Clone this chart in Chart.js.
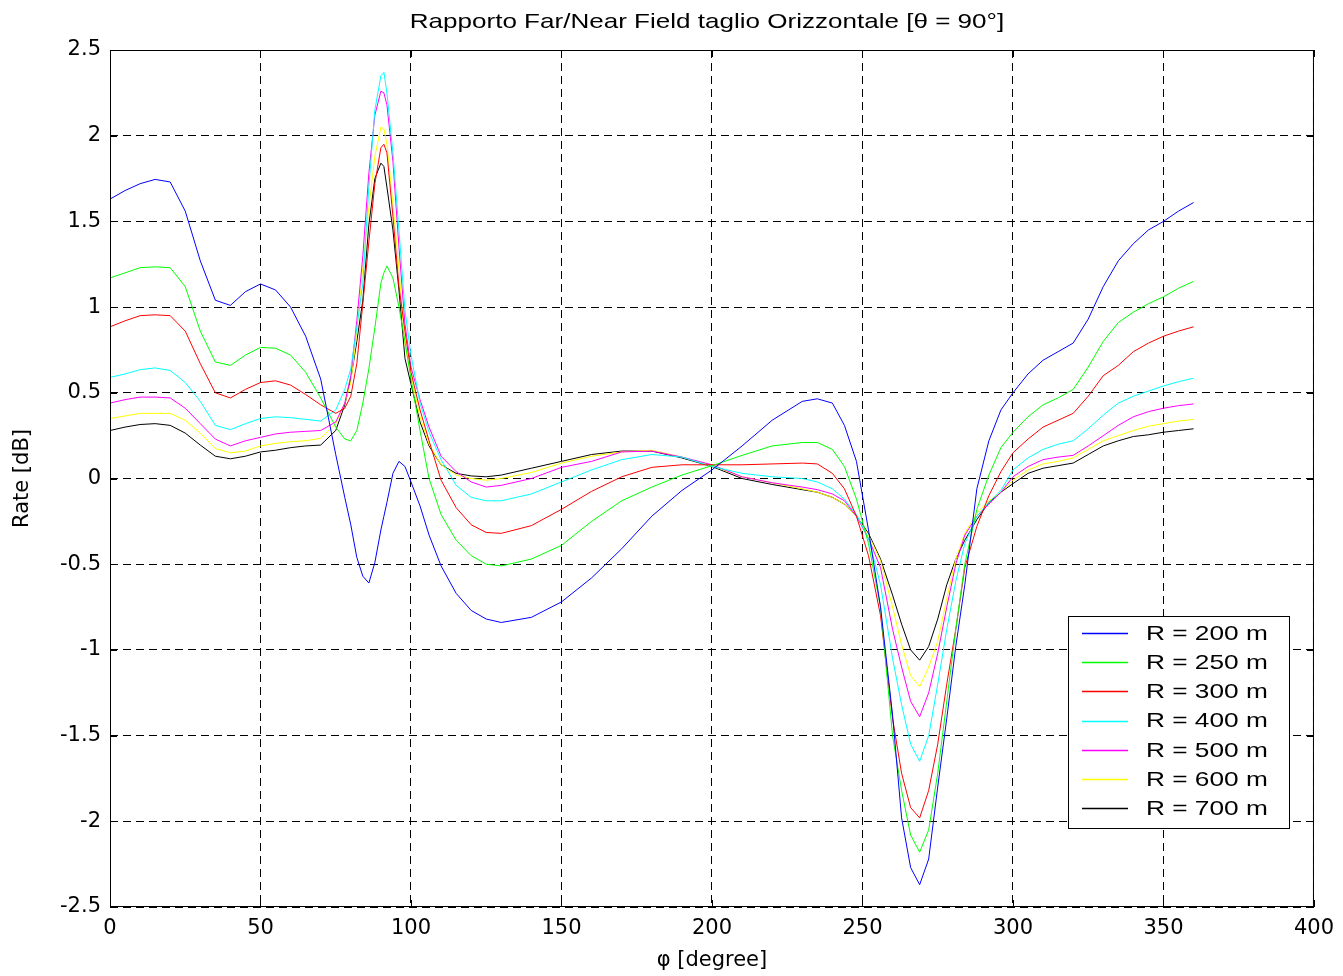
<!DOCTYPE html>
<html>
<head>
<meta charset="utf-8">
<script src="https://cdn.jsdelivr.net/npm/chart.js@4"></script>
<style>
html, body { margin: 0; padding: 0; background: #fff; }
#wrap { width: 1343px; height: 976px; }
</style>
</head>
<body>
<div id="wrap"><canvas id="graficaRapporto" width="1343" height="976"></canvas></div>
<script>
// angoli phi [deg]
const phi = [0,5,10,15,20,25,30,35,40,45,50,55,60,65,70,75,
  78,80,82,84,86,88,90,91,92,94,96,98,100,
  103,106,110,115,120,125,130,
  140,150,160,170,180,190,200,210,220,230,
  235,240,244,248,252,256,260,263,266,269,272,275,278,281,284,288,292,296,300,
  305,310,315,320,325,330,335,340,345,350,355,360];

const r200 = [1.63,1.68,1.72,1.745,1.73,1.56,1.27,1.04,1.01,1.09,1.135,1.10,1.00,0.83,0.58,0.14,
  -0.11,-0.27,-0.46,-0.57,-0.61,-0.49,-0.30,-0.22,-0.14,0.03,0.10,0.07,-0.02,
  -0.16,-0.33,-0.51,-0.67,-0.77,-0.82,-0.84,
  -0.81,-0.72,-0.58,-0.41,-0.22,-0.07,0.05,0.19,0.34,0.45,
  0.465,0.44,0.31,0.10,-0.30,-0.75,-1.38,-1.98,-2.27,-2.37,-2.22,-1.80,-1.40,-0.98,-0.62,-0.06,0.22,0.40,0.50,
  0.61,0.69,0.74,0.79,0.93,1.12,1.27,1.37,1.45,1.50,1.56,1.61];

const r250 = [1.17,1.20,1.23,1.235,1.23,1.12,0.86,0.68,0.66,0.72,0.765,0.76,0.72,0.62,0.47,0.30,
  0.23,0.22,0.28,0.44,0.64,0.88,1.14,1.20,1.24,1.17,1.00,0.80,0.58,
  0.28,0.00,-0.21,-0.36,-0.45,-0.50,-0.51,
  -0.47,-0.39,-0.25,-0.13,-0.05,0.02,0.075,0.135,0.19,0.21,
  0.21,0.17,0.07,-0.12,-0.38,-0.75,-1.50,-1.82,-2.08,-2.18,-2.05,-1.72,-1.30,-0.88,-0.50,-0.18,0.02,0.18,0.27,
  0.36,0.43,0.47,0.52,0.65,0.80,0.91,0.97,1.02,1.06,1.11,1.15];

const r300 = [0.885,0.92,0.95,0.955,0.95,0.86,0.67,0.50,0.47,0.52,0.56,0.57,0.545,0.49,0.43,0.38,
  0.41,0.48,0.67,1.02,1.38,1.72,1.93,1.95,1.90,1.53,1.12,0.86,0.62,
  0.40,0.22,-0.01,-0.17,-0.27,-0.315,-0.32,
  -0.275,-0.18,-0.075,0.01,0.065,0.08,0.08,0.08,0.085,0.09,
  0.085,0.03,-0.06,-0.22,-0.45,-0.80,-1.40,-1.72,-1.92,-1.98,-1.82,-1.55,-1.20,-0.88,-0.52,-0.28,-0.10,0.04,0.15,
  0.23,0.30,0.34,0.38,0.48,0.60,0.66,0.74,0.79,0.83,0.86,0.885];

const r400 = [0.59,0.61,0.635,0.645,0.63,0.56,0.45,0.31,0.285,0.32,0.35,0.36,0.355,0.345,0.335,0.40,
  0.52,0.64,0.88,1.14,1.70,2.15,2.35,2.37,2.25,1.90,1.45,0.98,0.72,
  0.44,0.27,0.11,-0.04,-0.11,-0.13,-0.13,
  -0.09,-0.02,0.05,0.11,0.14,0.125,0.07,0.03,0.01,0.0,
  -0.02,-0.06,-0.12,-0.21,-0.35,-0.62,-1.05,-1.32,-1.55,-1.65,-1.50,-1.20,-0.88,-0.60,-0.38,-0.22,-0.14,-0.07,0.05,
  0.12,0.17,0.20,0.22,0.29,0.37,0.44,0.48,0.51,0.54,0.565,0.585];

const r500 = [0.44,0.46,0.475,0.475,0.47,0.41,0.32,0.23,0.19,0.22,0.24,0.26,0.27,0.275,0.28,0.33,
  0.44,0.60,0.92,1.30,1.78,2.12,2.26,2.25,2.18,1.85,1.35,0.90,0.65,
  0.46,0.30,0.13,0.04,-0.02,-0.05,-0.04,
  0.00,0.065,0.10,0.155,0.16,0.125,0.08,0.01,-0.025,-0.05,
  -0.065,-0.09,-0.13,-0.22,-0.35,-0.52,-0.88,-1.10,-1.30,-1.39,-1.25,-1.02,-0.75,-0.50,-0.33,-0.22,-0.15,-0.08,0.01,
  0.07,0.11,0.125,0.135,0.19,0.25,0.31,0.36,0.39,0.41,0.425,0.435];

const r600 = [0.35,0.365,0.38,0.38,0.38,0.34,0.265,0.175,0.15,0.16,0.19,0.205,0.215,0.22,0.235,0.32,
  0.44,0.56,0.85,1.23,1.58,1.88,2.05,2.04,1.95,1.60,1.22,0.78,0.60,
  0.36,0.20,0.08,0.02,0.0,-0.01,0.0,
  0.035,0.09,0.13,0.155,0.165,0.125,0.075,0.01,-0.025,-0.06,
  -0.08,-0.11,-0.15,-0.22,-0.33,-0.48,-0.75,-0.97,-1.15,-1.215,-1.10,-0.95,-0.70,-0.47,-0.32,-0.20,-0.13,-0.08,-0.01,
  0.05,0.085,0.10,0.12,0.17,0.22,0.25,0.28,0.305,0.32,0.335,0.345];

const r700 = [0.28,0.30,0.315,0.32,0.31,0.265,0.195,0.13,0.115,0.13,0.155,0.165,0.18,0.19,0.195,0.28,
  0.43,0.58,0.80,1.04,1.48,1.75,1.84,1.82,1.70,1.45,1.10,0.70,0.55,
  0.33,0.19,0.08,0.03,0.015,0.01,0.02,
  0.06,0.10,0.14,0.16,0.16,0.12,0.07,0.0,-0.035,-0.065,
  -0.08,-0.11,-0.15,-0.22,-0.32,-0.47,-0.68,-0.85,-1.00,-1.06,-0.98,-0.82,-0.62,-0.47,-0.36,-0.24,-0.14,-0.08,-0.03,
  0.03,0.06,0.075,0.09,0.14,0.19,0.22,0.245,0.255,0.27,0.28,0.29];

const etichette = ['R = 200 m','R = 250 m','R = 300 m','R = 400 m','R = 500 m','R = 600 m','R = 700 m'];
const colori = ['#0000ff','#00ff00','#ff0000','#00ffff','#ff00ff','#ffff00','#000000'];
const serie = [r200, r250, r300, r400, r500, r600, r700];

const xTicks = [0,50,100,150,200,250,300,350,400];
const yTicks = [-2.5,-2,-1.5,-1,-0.5,0,0.5,1,1.5,2,2.5];

const titolo = 'Rapporto Far/Near Field taglio Orizzontale [\u03b8 = 90\u00b0]';
const FONT_TESTO = '"Liberation Sans", Arial, Helvetica, sans-serif';
const FONT_ASSI = '"DejaVu Sans", "Liberation Sans", sans-serif';

// testo allargato in orizzontale come nel grafico MATLAB
function testoLargo(ctx, txt, x, y, sx, align) {
    ctx.save();
    ctx.translate(x, y);
    ctx.scale(sx, 1);
    ctx.textAlign = align;
    ctx.fillText(txt, 0, 0);
    ctx.restore();
}

// bordo, tacche interne, titolo e legenda
const stileMatlab = {
    id: 'stileMatlab',
    afterDraw(chart) {
        const ctx = chart.ctx;
        const a = chart.chartArea;
        const sx = chart.scales.x, sy = chart.scales.y;
        ctx.save();
        ctx.setLineDash([]);
        ctx.strokeStyle = '#000';
        ctx.lineWidth = 1;
        ctx.strokeRect(a.left + 0.5, a.top + 0.5, a.right - a.left - 1, a.bottom - a.top - 1);
        ctx.beginPath();
        xTicks.forEach(v => {
            const px = Math.round(sx.getPixelForValue(v)) + 0.5;
            ctx.moveTo(px, a.bottom); ctx.lineTo(px, a.bottom - 7);
            ctx.moveTo(px, a.top); ctx.lineTo(px, a.top + 7);
        });
        yTicks.forEach(v => {
            const py = Math.round(sy.getPixelForValue(v)) + 0.5;
            ctx.moveTo(a.left, py); ctx.lineTo(a.left + 7, py);
            ctx.moveTo(a.right, py); ctx.lineTo(a.right - 7, py);
        });
        ctx.stroke();

        // titolo
        ctx.fillStyle = '#000';
        ctx.font = '21px ' + FONT_TESTO;
        ctx.textBaseline = 'middle';
        testoLargo(ctx, titolo, (a.left + a.right) / 2 - 5, 22, 1.24, 'center');

        // legenda
        const lx = 1068, ly = 616, lw = 221, lh = 212;
        ctx.fillStyle = '#fff';
        ctx.fillRect(lx, ly, lw, lh);
        ctx.strokeStyle = '#000';
        ctx.strokeRect(lx + 0.5, ly + 0.5, lw, lh);
        chart.data.datasets.forEach((ds, i) => {
            const y = ly + 17 + i * 29.2;
            ctx.strokeStyle = ds.borderColor;
            ctx.lineWidth = 1.4;
            ctx.beginPath();
            ctx.moveTo(lx + 14, Math.round(y) + 0.5);
            ctx.lineTo(lx + 60, Math.round(y) + 0.5);
            ctx.stroke();
            ctx.fillStyle = '#000';
            testoLargo(ctx, ds.label, lx + 78, y + 1, 1.25, 'left');
        });
        ctx.restore();
    }
};

document.addEventListener('DOMContentLoaded', () => {
    const ctx = document.getElementById('graficaRapporto').getContext('2d');
    Chart.defaults.font.family = FONT_ASSI;
    Chart.defaults.font.size = 21;
    Chart.defaults.color = '#000';

    new Chart(ctx, {
        type: 'line',
        data: {
            datasets: serie.map((vals, i) => ({
                label: etichette[i],
                data: phi.map((p, j) => ({ x: p, y: vals[j] })),
                borderColor: colori[i],
                backgroundColor: colori[i],
                borderWidth: 1,
                pointRadius: 0,
                tension: 0,
                fill: false
            }))
        },
        options: {
            responsive: false,
            animation: false,
            layout: { padding: { top: 50, right: 29, left: 0, bottom: 0 } },
            plugins: {
                legend: { display: false },
                title: { display: false },
                tooltip: { enabled: false }
            },
            scales: {
                x: {
                    type: 'linear',
                    min: 0, max: 400,
                    afterBuildTicks: s => { s.ticks = xTicks.map(v => ({ value: v })); },
                    afterFit: s => { s.height = 69; },
                    ticks: { padding: 9, maxRotation: 0, callback: v => String(v) },
                    grid: { color: '#000', lineWidth: 1, drawTicks: false },
                    border: { display: false, dash: [8, 5] },
                    title: { display: true, text: '\u03c6 [degree]', font: { size: 21 }, padding: { top: 0, bottom: 3 } }
                },
                y: {
                    type: 'linear',
                    min: -2.5, max: 2.5,
                    afterBuildTicks: s => { s.ticks = yTicks.map(v => ({ value: v })); },
                    afterFit: s => { s.width = 110; },
                    ticks: { padding: 9, callback: v => String(v) },
                    grid: { color: '#000', lineWidth: 1, drawTicks: false },
                    border: { display: false, dash: [8, 5] },
                    title: { display: true, text: 'Rate [dB]', font: { size: 21 }, padding: { top: 10, bottom: 0 } }
                }
            }
        },
        plugins: [stileMatlab]
    });
});
</script>
</body>
</html>
